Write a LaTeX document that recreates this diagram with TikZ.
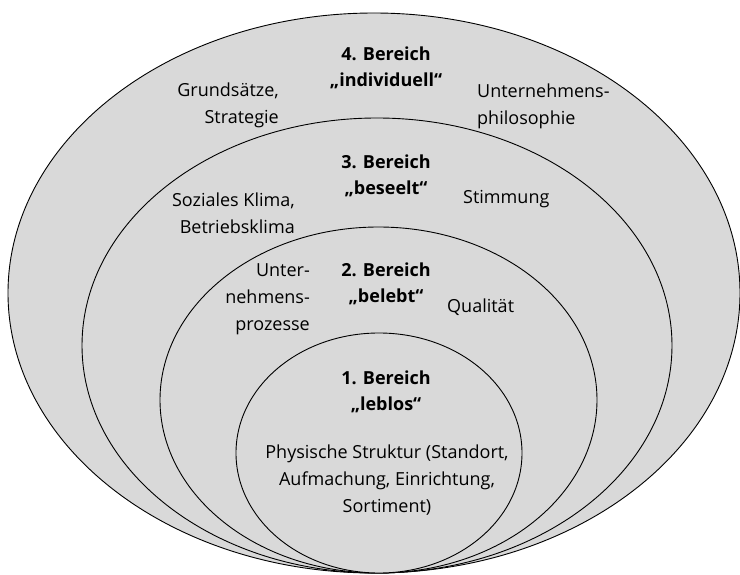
\documentclass[tikz,border=0pt]{standalone}
\usepackage{fontspec}
\setmainfont{Open Sans}
\begin{document}
\begin{tikzpicture}[x=1pt,y=-1pt,
  bereich/.style={draw=black,line width=0.9pt,fill=gray!30},
  lbl/.style={inner sep=0pt,font=\fontsize{18}{27}\selectfont},
  head/.style={lbl,align=center,font=\fontsize{18}{26.5}\selectfont\bfseries}]
\useasboundingbox (0,0) rectangle (740,575);
\draw[bereich] (374,293) ellipse [x radius=366, y radius=280];
\draw[bereich] (377,345.5) ellipse [x radius=295, y radius=227.5];
\draw[bereich] (378.5,400) ellipse [x radius=218.5, y radius=173];
\draw[bereich] (379,453) ellipse [x radius=143, y radius=120];
% Bereich 4
\node[head] (h4) at (386,68) {4. Bereich\\„individuell“};
\node[lbl,align=right,anchor=east] (g4) at (279,105) {Grundsätze,\\Strategie};
\node[lbl,align=left,anchor=west] (u4) at (477,106) {Unternehmens-\\philosophie};
% Bereich 3
\node[head] (h3) at (386,176) {3. Bereich\\„beseelt“};
\node[lbl,align=right,anchor=east] (s3) at (295,213) {Soziales Klima,\\Betriebsklima};
\node[lbl,anchor=west] (st3) at (463,199) {Stimmung};
% Bereich 2
\node[head] (h2) at (386,284) {2. Bereich\\„belebt“};
\node[lbl,align=right,anchor=east] (u2) at (310,299) {Unter-\\nehmens-\\prozesse};
\node[lbl,anchor=west] (q2) at (447,307) {Qualität};
% Bereich 1
\node[head] (h1) at (386,392) {1. Bereich\\„leblos“};
\node[lbl,align=center] (p1) at (387,480) {Physische Struktur (Standort,\\Aufmachung, Einrichtung,\\Sortiment)};
\end{tikzpicture}
\end{document}
